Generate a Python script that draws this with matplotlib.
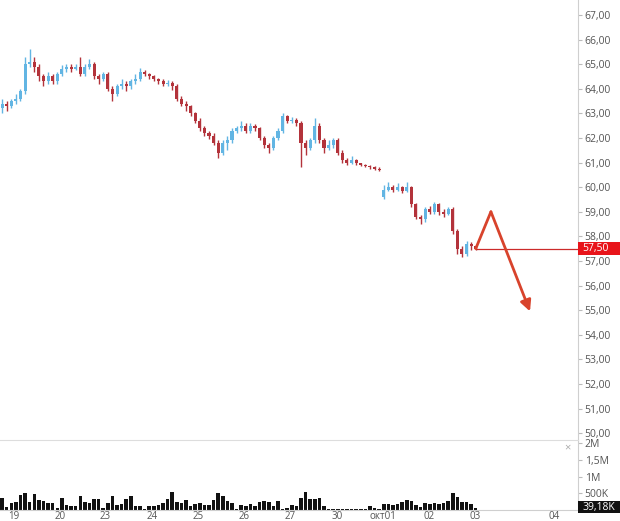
import numpy as np
import matplotlib
matplotlib.use("Agg")
import matplotlib.pyplot as plt
from matplotlib.patches import Rectangle
from matplotlib.transforms import blended_transform_factory

plt.rcParams['font.family'] = ['Open Sans', 'DejaVu Sans']

# hourly candles, 10 per trading day
opens = [63.2, 63.4, 63.3, 63.5, 63.6, 63.9, 65.0, 65.1, 64.9, 64.5,
         64.3, 64.5, 64.3, 64.6, 64.8, 64.9, 64.8, 64.9, 64.6, 64.9,
         65.0, 64.5, 64.4, 64.6, 64.0, 63.8, 64.1, 64.2, 64.1, 64.3,
         64.4, 64.7, 64.6, 64.5, 64.4, 64.3, 64.2, 64.25, 64.1, 63.6,
         63.4, 63.3, 63.0, 62.7, 62.4, 62.2, 62.1, 61.8, 61.4, 61.8,
         61.9, 62.3, 62.4, 62.5, 62.3, 62.5, 62.4, 62.0, 61.7, 61.6,
         62.0, 62.3, 62.9, 62.7, 62.75, 62.6, 61.8, 61.6, 61.9, 62.5,
         61.9, 61.6, 61.7, 61.9, 61.4, 61.1, 61.0, 61.1, 61.0, 60.9,
         60.85, 60.8, 60.75, 59.6, 59.9, 60.0, 59.9, 60.0, 59.85, 60.0,
         59.3, 58.8, 58.7, 59.1, 59.0, 59.3, 59.0, 58.9, 59.1, 58.2,
         57.5, 57.3, 57.7, 57.6]
closes = [63.4, 63.3, 63.5, 63.6, 63.9, 65.0, 65.1, 64.9, 64.5, 64.3,
          64.5, 64.3, 64.6, 64.8, 64.9, 64.8, 64.9, 64.6, 64.9, 65.0,
          64.5, 64.4, 64.6, 64.0, 63.8, 64.1, 64.2, 64.1, 64.3, 64.4,
          64.7, 64.6, 64.5, 64.4, 64.3, 64.2, 64.25, 64.1, 63.6, 63.4,
          63.3, 63.0, 62.7, 62.4, 62.2, 62.1, 61.8, 61.4, 61.8, 61.9,
          62.3, 62.4, 62.5, 62.3, 62.5, 62.4, 62.0, 61.7, 61.6, 62.0,
          62.3, 62.9, 62.7, 62.75, 62.6, 61.8, 61.6, 61.9, 62.5, 61.9,
          61.6, 61.7, 61.9, 61.4, 61.1, 61.0, 61.1, 61.0, 60.9, 60.85,
          60.8, 60.75, 60.7, 59.9, 60.0, 59.9, 60.0, 59.85, 60.0, 59.3,
          58.8, 58.7, 59.1, 59.0, 59.3, 59.0, 58.9, 59.1, 58.2, 57.5,
          57.3, 57.7, 57.6, 57.5]
highs = [63.6, 63.5, 63.6, 63.8, 64.0, 65.3, 65.6, 65.3, 65.0, 64.6,
         64.7, 64.6, 64.7, 64.95, 65.0, 65.0, 65.0, 65.3, 65.0, 65.2,
         65.1, 64.6, 64.7, 64.7, 64.1, 64.2, 64.4, 64.3, 64.4, 64.6,
         64.85, 64.75, 64.65, 64.55, 64.45, 64.4, 64.35, 64.3, 64.2, 63.7,
         63.5, 63.35, 63.05, 62.8, 62.5, 62.3, 62.2, 61.9, 61.9, 62.1,
         62.4, 62.5, 62.7, 62.6, 62.6, 62.55, 62.45, 62.1, 61.8, 62.1,
         62.4, 63.0, 62.95, 62.85, 62.8, 62.7, 61.9, 62.0, 62.8, 62.6,
         62.0, 61.9, 62.0, 62.0, 61.5, 61.2, 61.25, 61.15, 61.0, 60.95,
         60.9, 60.85, 60.8, 60.1, 60.2, 60.1, 60.15, 60.05, 60.2, 60.05,
         59.35, 58.85, 59.2, 59.25, 59.4, 59.35, 59.1, 59.2, 59.2, 58.3,
         57.6, 57.8, 57.75, 57.65]
lows = [63.0, 63.1, 63.2, 63.4, 63.5, 63.8, 64.9, 64.7, 64.3, 64.1,
        64.2, 64.2, 64.2, 64.5, 64.7, 64.7, 64.75, 64.5, 64.5, 64.8,
        64.4, 64.2, 64.3, 63.9, 63.5, 63.7, 64.0, 63.9, 64.0, 64.2,
        64.3, 64.5, 64.4, 64.3, 64.2, 64.1, 64.1, 63.95, 63.5, 63.3,
        63.1, 62.9, 62.6, 62.3, 62.1, 61.95, 61.7, 61.2, 61.3, 61.5,
        61.8, 62.2, 62.3, 62.2, 62.2, 62.3, 61.9, 61.6, 61.4, 61.5,
        61.9, 62.2, 62.6, 62.6, 62.5, 60.8, 61.3, 61.5, 61.8, 61.8,
        61.4, 61.5, 61.6, 61.3, 61.0, 60.9, 60.95, 60.9, 60.85, 60.8,
        60.75, 60.7, 60.65, 59.5, 59.85, 59.8, 59.85, 59.75, 59.8, 59.2,
        58.7, 58.5, 58.6, 58.9, 58.9, 58.85, 58.8, 58.85, 58.1, 57.3,
        57.15, 57.2, 57.45, 57.45]
# volume, thousands
volumes = [360, 80, 200, 230, 450, 520, 230, 480, 310, 280,
           200, 200, 60, 350, 150, 130, 120, 430, 250, 220,
           330, 320, 60, 200, 420, 150, 170, 330, 420, 130,
           110, 40, 130, 130, 150, 200, 340, 530, 250, 210,
           310, 120, 170, 220, 150, 160, 300, 520, 430, 260,
           220, 30, 150, 120, 180, 130, 240, 280, 250, 130,
           280, 40, 70, 140, 130, 370, 550, 320, 320, 370,
           130, 30, 30, 20, 30, 20, 20, 30, 20, 30,
           130, 60, 40, 180, 170, 160, 180, 250, 300, 280,
           150, 80, 200, 170, 200, 180, 220, 280, 520, 400,
           250, 230, 180, 60]

day_labels = ['19', '20', '23', '24', '25', '26', '27', '30', 'окт01', '02', '03', '04']
day_pos = [2.6, 12.6, 22.4, 32.6, 42.6, 52.6, 62.6, 72.8, 82.8, 92.8, 102.8, 120.0]

last_price = 57.50
last_volume_label = '39,18K'
# drawn forecast: up then down
forecast_x = [103, 106.3, 114.8]
forecast_y = [57.5, 59.0, 54.95]

up_col = '#62b5e3'
dn_col = '#b3333b'
axis_col = '#cfcfcf'
txt_col = '#555555'

fig = plt.figure(figsize=(6.2, 5.21), dpi=100)
ax = fig.add_axes([0.0, 0.1555, 0.932, 0.8445])
axv = fig.add_axes([0.0, 0.0211, 0.932, 0.1344], sharex=ax)

x = np.arange(len(closes))
o = np.array(opens)
c = np.array(closes)
cols = [up_col if cc >= oo else dn_col for oo, cc in zip(o, c)]
ax.vlines(x, lows, highs, colors=cols, lw=1.0, zorder=2)
body = np.maximum(np.abs(c - o), 0.04)
ax.bar(x, body, bottom=np.minimum(o, c), width=0.66, color=cols, zorder=3)

# forecast arrow
red = '#d8432c'
ax.plot(forecast_x[:2], forecast_y[:2], color=red, lw=2.0, solid_capstyle='round', zorder=4)
ax.annotate('', xy=(forecast_x[2], forecast_y[2]), xytext=(forecast_x[1], forecast_y[1]),
            arrowprops=dict(arrowstyle='-|>', color=red, lw=2.0, mutation_scale=16,
                            shrinkA=0, shrinkB=0), zorder=4)

# last price line + label
ax.plot([forecast_x[0], 126], [last_price, last_price], color='#cc2a2a', lw=0.9, zorder=3)
tr = blended_transform_factory(ax.transAxes, ax.transData)
ax.add_patch(Rectangle((1.0, last_price - 0.25), 0.08, 0.5, transform=tr,
                       fc='#e8141a', ec='none', clip_on=False, zorder=9))
ax.text(1.008, last_price, '{:.2f}'.format(last_price).replace('.', ','), transform=tr,
        ha='left', va='center', fontsize=7.5, color='white', zorder=10, clip_on=False)

ax.set_xlim(-0.45, 125.2)
ax.set_ylim(49.72, 67.61)
ax.yaxis.tick_right()
yt = np.arange(50, 68, 1)
ax.set_yticks(yt)
ax.set_yticklabels(['{:.2f}'.format(v).replace('.', ',') for v in yt])
ax.tick_params(axis='y', length=3, width=0.8, color='#bbbbbb', labelcolor=txt_col,
               labelsize=7.5, pad=2)
ax.tick_params(axis='x', bottom=False, labelbottom=False)
for s in ['left', 'top', 'bottom']:
    ax.spines[s].set_visible(False)
ax.spines['right'].set_color(axis_col)

# volume panel
vol = np.array(volumes) * 1000
axv.bar(x, vol, width=0.76, color='#111111', zorder=2)
axv.set_ylim(0, 2.1e6)
axv.yaxis.tick_right()
axv.set_yticks([5e5, 1e6, 1.5e6, 2e6])
axv.set_yticklabels(['500K', '1M', '1,5M', '2M'])
axv.tick_params(axis='y', length=3, width=0.8, color='#bbbbbb', labelcolor=txt_col,
                labelsize=7.5, pad=2)
axv.set_xticks(day_pos)
axv.set_xticklabels(day_labels)
axv.tick_params(axis='x', length=0, labelcolor=txt_col, labelsize=7, pad=0.5)
axv.spines['left'].set_visible(False)
axv.spines['top'].set_color('#dddddd')
axv.spines['bottom'].set_color(axis_col)
axv.spines['right'].set_color(axis_col)
trv = blended_transform_factory(axv.transAxes, axv.transData)
axv.add_patch(Rectangle((1.0, -1.0e5), 0.08, 3.7e5, transform=trv,
                        fc='#111111', ec='none', clip_on=False, zorder=9))
axv.text(1.008, 0.85e5, last_volume_label, transform=trv, ha='left', va='center',
         fontsize=7.5, color='white', clip_on=False, zorder=10)
axv.text(0.982, 0.88, '×', transform=axv.transAxes, ha='center', va='center',
         fontsize=8, color='#aaaaaa')

fig.savefig('out.png', dpi=100)
